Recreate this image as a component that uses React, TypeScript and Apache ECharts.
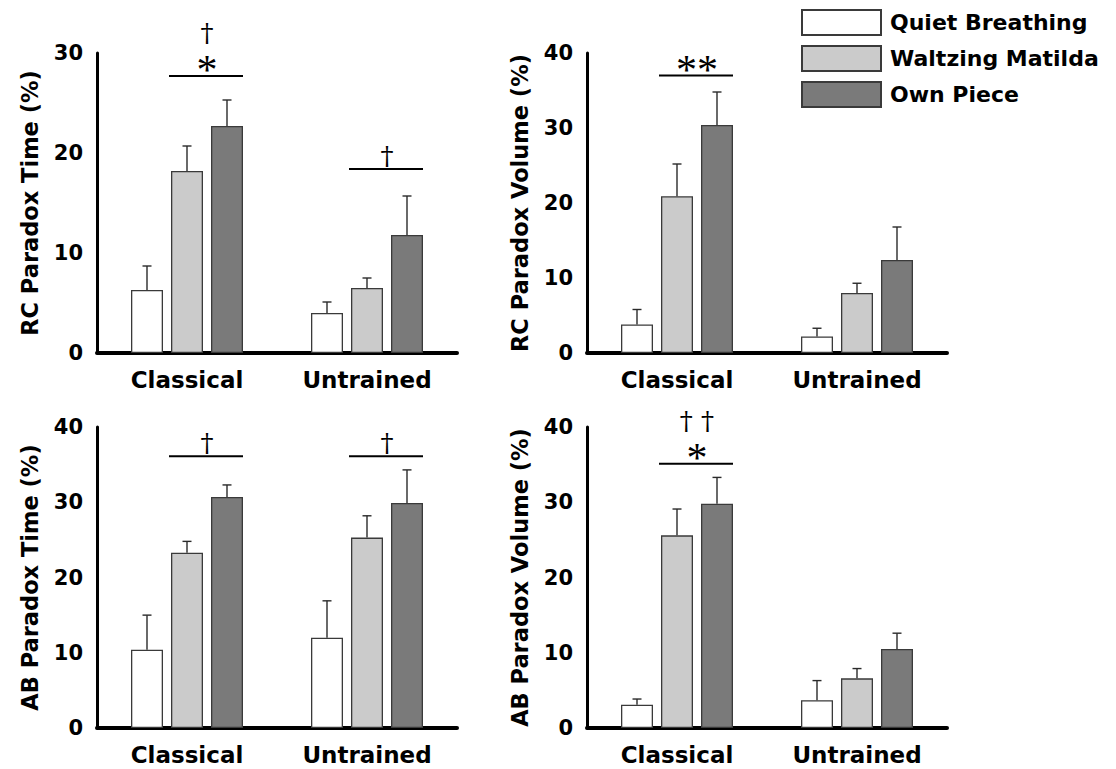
import React, { useEffect, useRef } from "react";
import * as echarts from "echarts";

const FONT = "DejaVu Sans";
const STAR_FONT = "Liberation Serif";
const DAGGER_FONT = "DejaVu Serif";

const categories = ["Classical", "Untrained"];
const conditions = ["Quiet Breathing", "Waltzing Matilda", "Own Piece"];
const colors = ["#ffffff", "#cbcbcb", "#7a7a7a"];

// [condition][group]
const rcTimeMeans = [[6.3, 4.0], [18.2, 6.5], [22.7, 11.8]];
const rcTimeErrs = [[2.4, 1.1], [2.5, 1.0], [2.6, 3.9]];
const rcVolMeans = [[3.8, 2.2], [20.9, 8.0], [30.4, 12.4]];
const rcVolErrs = [[2.0, 1.1], [4.3, 1.3], [4.4, 4.4]];
const abTimeMeans = [[10.4, 12.0], [23.3, 25.3], [30.7, 29.9]];
const abTimeErrs = [[4.6, 4.9], [1.5, 2.9], [1.6, 4.4]];
const abVolMeans = [[3.1, 3.7], [25.6, 6.6], [29.8, 10.5]];
const abVolErrs = [[0.75, 2.6], [3.5, 1.3], [3.5, 2.1]];

const yTitles = ["RC Paradox Time (%)", "RC Paradox Volume (%)", "AB Paradox Time (%)", "AB Paradox Volume (%)"];
const yMax = [30, 40, 40, 40];

// significance bars: group index, bar level (axis value), marks from bottom to top
const rcTimeSig = [{ cat: 0, y: 27.7, marks: ["*", "†"] }, { cat: 1, y: 18.4, marks: ["†"] }];
const rcVolSig = [{ cat: 0, y: 37.0, marks: ["**"] }];
const abTimeSig = [{ cat: 0, y: 36.1, marks: ["†"] }, { cat: 1, y: 36.1, marks: ["†"] }];
const abVolSig = [{ cat: 0, y: 35.1, marks: ["*", "† †"] }];

const panelMeans = [rcTimeMeans, rcVolMeans, abTimeMeans, abVolMeans];
const panelErrs = [rcTimeErrs, rcVolErrs, abTimeErrs, abVolErrs];
const panelSig = [rcTimeSig, rcVolSig, abTimeSig, abVolSig];

const grids = [
  { left: 97, top: 53, width: 360, height: 300 },
  { left: 587, top: 53, width: 360, height: 300 },
  { left: 97, top: 427, width: 360, height: 301 },
  { left: 587, top: 427, width: 360, height: 301 },
];

const BAR_W = 32;
const BAR_STEP = 40;

function buildOption() {
  const xAxis: any[] = [];
  const yAxis: any[] = [];
  const series: any[] = [];
  grids.forEach((g, p) => {
    xAxis.push({
      type: "category",
      gridIndex: p,
      data: categories,
      axisLine: { show: true, lineStyle: { color: "#000", width: 4 } },
      axisTick: { show: false },
      axisLabel: { fontFamily: FONT, fontWeight: "bold", fontSize: 23, color: "#000", margin: 15 },
    });
    yAxis.push({
      type: "value",
      gridIndex: p,
      min: 0,
      max: yMax[p],
      interval: 10,
      name: yTitles[p],
      nameLocation: "middle",
      nameGap: 56,
      nameTextStyle: { fontFamily: FONT, fontWeight: "bold", fontSize: 22.5, color: "#000" },
      axisLine: { show: true, lineStyle: { color: "#000", width: 3 } },
      axisTick: { show: false },
      splitLine: { show: false },
      axisLabel: { fontFamily: FONT, fontWeight: "bold", fontSize: 21, color: "#000", margin: 14 },
    });
    conditions.forEach((name, k) => {
      series.push({
        type: "bar",
        name,
        xAxisIndex: p,
        yAxisIndex: p,
        data: panelMeans[p][k],
        barWidth: BAR_W,
        barGap: "25%",
        itemStyle: { color: colors[k], borderColor: "#3a3a3a", borderWidth: 1.3 },
        emphasis: { disabled: true },
      });
    });
    conditions.forEach((name, k) => {
      const off = (k - 1) * BAR_STEP;
      series.push({
        type: "custom",
        name: "err-" + p + "-" + k,
        xAxisIndex: p,
        yAxisIndex: p,
        z: 5,
        clip: false,
        data: categories.map((_, i) => [i, panelMeans[p][k][i], panelMeans[p][k][i] + panelErrs[p][k][i]]),
        encode: { x: 0, y: [1, 2] },
        renderItem: (params: any, api: any) => {
          const c = api.value(0);
          const p0 = api.coord([c, api.value(1)]);
          const p1 = api.coord([c, api.value(2)]);
          const x = p0[0] + off;
          const st = { stroke: "#2a2a2a", lineWidth: 1.4 };
          return {
            type: "group",
            children: [
              { type: "line", shape: { x1: x, y1: p0[1], x2: x, y2: p1[1] }, style: st },
              { type: "line", shape: { x1: x - 4.5, y1: p1[1], x2: x + 4.5, y2: p1[1] }, style: st },
            ],
          };
        },
      });
    });
    const sig = panelSig[p];
    series.push({
      type: "custom",
      name: "sig-" + p,
      xAxisIndex: p,
      yAxisIndex: p,
      z: 6,
      clip: false,
      data: sig.map((s) => [s.cat, s.y]),
      encode: { x: 0, y: 1 },
      renderItem: (params: any, api: any) => {
        const s = sig[params.dataIndex];
        const pt = api.coord([api.value(0), api.value(1)]);
        const cx = pt[0];
        const y = pt[1];
        const children: any[] = [
          {
            type: "line",
            shape: { x1: cx - 18, y1: y, x2: cx + 56, y2: y },
            style: { stroke: "#000", lineWidth: 2 },
          },
        ];
        s.marks.forEach((m, lvl) => {
          const star = m.indexOf("*") >= 0;
          const base = lvl === 0 ? -14 : -44;
          children.push({
            type: "text",
            style: {
              text: m,
              x: cx + 20,
              y: y + base + (star ? 8 : 1),
              align: "center",
              verticalAlign: "middle",
              fontFamily: star ? STAR_FONT : DAGGER_FONT,
              fontSize: star ? 42 : 26,
              fill: "#000",
            },
          });
        });
        return { type: "group", children };
      },
    });
  });

  return {
    animation: false,
    backgroundColor: "#ffffff",
    grid: grids.map((g) => ({ ...g, containLabel: false, outerBoundsMode: "none" })),
    xAxis,
    yAxis,
    legend: {
      data: conditions,
      orient: "vertical",
      left: 801,
      top: 9,
      padding: 0,
      itemWidth: 79,
      itemHeight: 25,
      itemGap: 9,
      icon: "rect",
      selectedMode: false,
      textStyle: { fontFamily: FONT, fontWeight: "bold", fontSize: 22, color: "#000", padding: [0, 0, 0, 4] },
    },
    series,
  };
}

export default function App() {
  const ref = useRef<HTMLDivElement>(null);
  useEffect(() => {
    if (!ref.current) return;
    const chart = echarts.init(ref.current, undefined, { renderer: "svg" });
    chart.setOption(buildOption() as any);
    return () => chart.dispose();
  }, []);
  return (
    <div
      ref={ref}
      style={{ position: "fixed", left: 0, top: 0, width: 1116, height: 769, background: "#fff" }}
    />
  );
}
